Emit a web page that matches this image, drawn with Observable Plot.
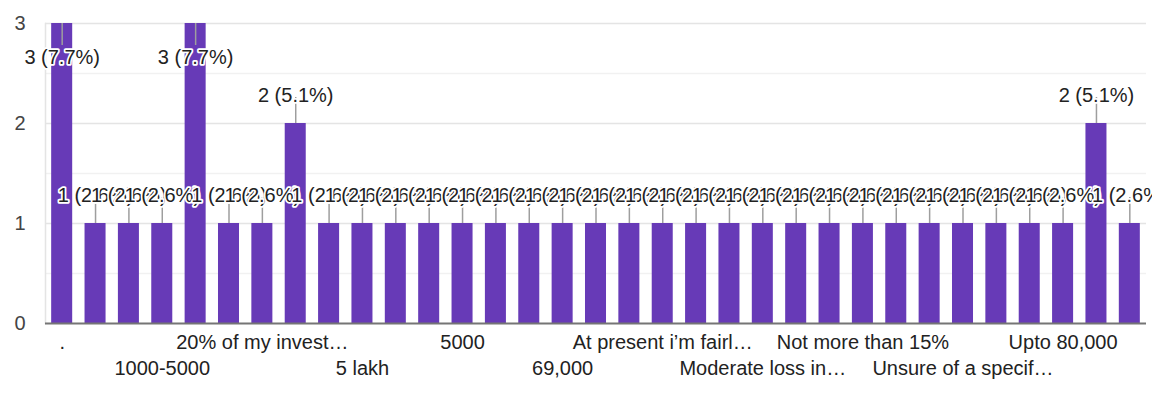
<!DOCTYPE html>
<html>
<head>
<meta charset="utf-8">
<script src="https://cdn.jsdelivr.net/npm/d3@7"></script>
<script src="https://cdn.jsdelivr.net/npm/@observablehq/plot@0.6"></script>
<style>
  html, body { margin: 0; padding: 0; background: #fff; }
  #chart svg { display: block; }
</style>
</head>
<body>
<div id="chart"></div>
<script>
// Response counts per answer, in answer order
const counts = [3, 1, 1, 1, 3, 1, 1, 2, 1, 1, 1, 1, 1, 1, 1, 1, 1, 1, 1, 1, 1, 1, 1, 1, 1, 1, 1, 1, 1, 1, 1, 2, 1];

// Answer labels shown under every third bar, alternating between two rows
const tickLabels = [
  ".", "1000-5000", "20% of my invest…", "5 lakh", "5000", "69,000",
  "At present i’m fairl…", "Moderate loss in…", "Not more than 15%",
  "Unsure of a specif…", "Upto 80,000"
];
const labelEvery = 3;

// Y axis values and the light gridlines
const yTicks = [0, 1, 2, 3];
const gridLines = [0.5, 1, 1.5, 2, 2.5, 3];

const total = d3.sum(counts);
const ymax = d3.max(counts);
const fmtPct = d3.format(".1f");

const rows = counts.map((c, i) => ({
  i,
  c,
  label: `${c} (${fmtPct((c / total) * 100)}%)`
}));
const above = rows.filter(d => d.c < ymax);
const inside = rows.filter(d => d.c === ymax);

const ticks = rows
  .filter(d => d.i % labelEvery === 0)
  .map((d, k) => ({ i: d.i, name: tickLabels[k], row: k % 2 }));

const font = '"Liberation Sans", Arial, sans-serif';
const purple = "#673ab7";
const halo = { stroke: "white", strokeWidth: 3.5 };

const chart = Plot.plot({
  width: 1152,
  height: 395,
  marginLeft: 45,
  marginRight: 6,
  marginTop: 23,
  marginBottom: 72,
  style: { fontFamily: font, fontSize: "20px", background: "#fff", color: "#222", overflow: "visible" },
  x: { type: "band", domain: d3.range(counts.length), paddingInner: 0.37, paddingOuter: 0.185, round: false, axis: null },
  y: { domain: [0, 3], axis: null },
  marks: [
    // gridlines
    Plot.ruleY(gridLines, { stroke: d => (Number.isInteger(d) ? "#e4e4e4" : "#f1f1f1"), strokeWidth: 1.5 }),
    Plot.frame({ anchor: "left", stroke: "#e4e4e4", strokeWidth: 1.5 }),

    // bars
    Plot.barY(rows, { x: "i", y: "c", fill: purple }),

    // baseline
    Plot.ruleY([0], { stroke: "#757575", strokeWidth: 2 }),

    // leader lines from each bar top to its value label
    Plot.ruleX(above, { x: "i", y1: "c", y2: "c", insetTop: -26, stroke: "#9e9e9e", strokeWidth: 1.5 }),
    Plot.ruleX(inside, { x: "i", y1: "c", y2: "c", insetBottom: -22, stroke: "#9e9e9e", strokeWidth: 1.5 }),

    // value labels: above the bar, or tucked inside when the bar reaches the top
    Plot.text(above, { x: "i", y: "c", text: "label", dy: -28, fill: "#222", ...halo }),
    Plot.text(inside, { x: "i", y: "c", text: "label", dy: 34, fill: "#222", ...halo }),

    // x tick labels in two staggered rows
    Plot.text(ticks.filter(d => d.row === 0), { x: "i", text: "name", frameAnchor: "bottom", dy: 25, fill: "#222" }),
    Plot.text(ticks.filter(d => d.row === 1), { x: "i", text: "name", frameAnchor: "bottom", dy: 51, fill: "#222" }),

    // y tick labels
    Plot.text(yTicks, { y: d => d, text: d => String(d), frameAnchor: "left", dx: -20, textAnchor: "end", fill: "#444" })
  ]
});

document.getElementById("chart").appendChild(chart);
</script>
</body>
</html>
